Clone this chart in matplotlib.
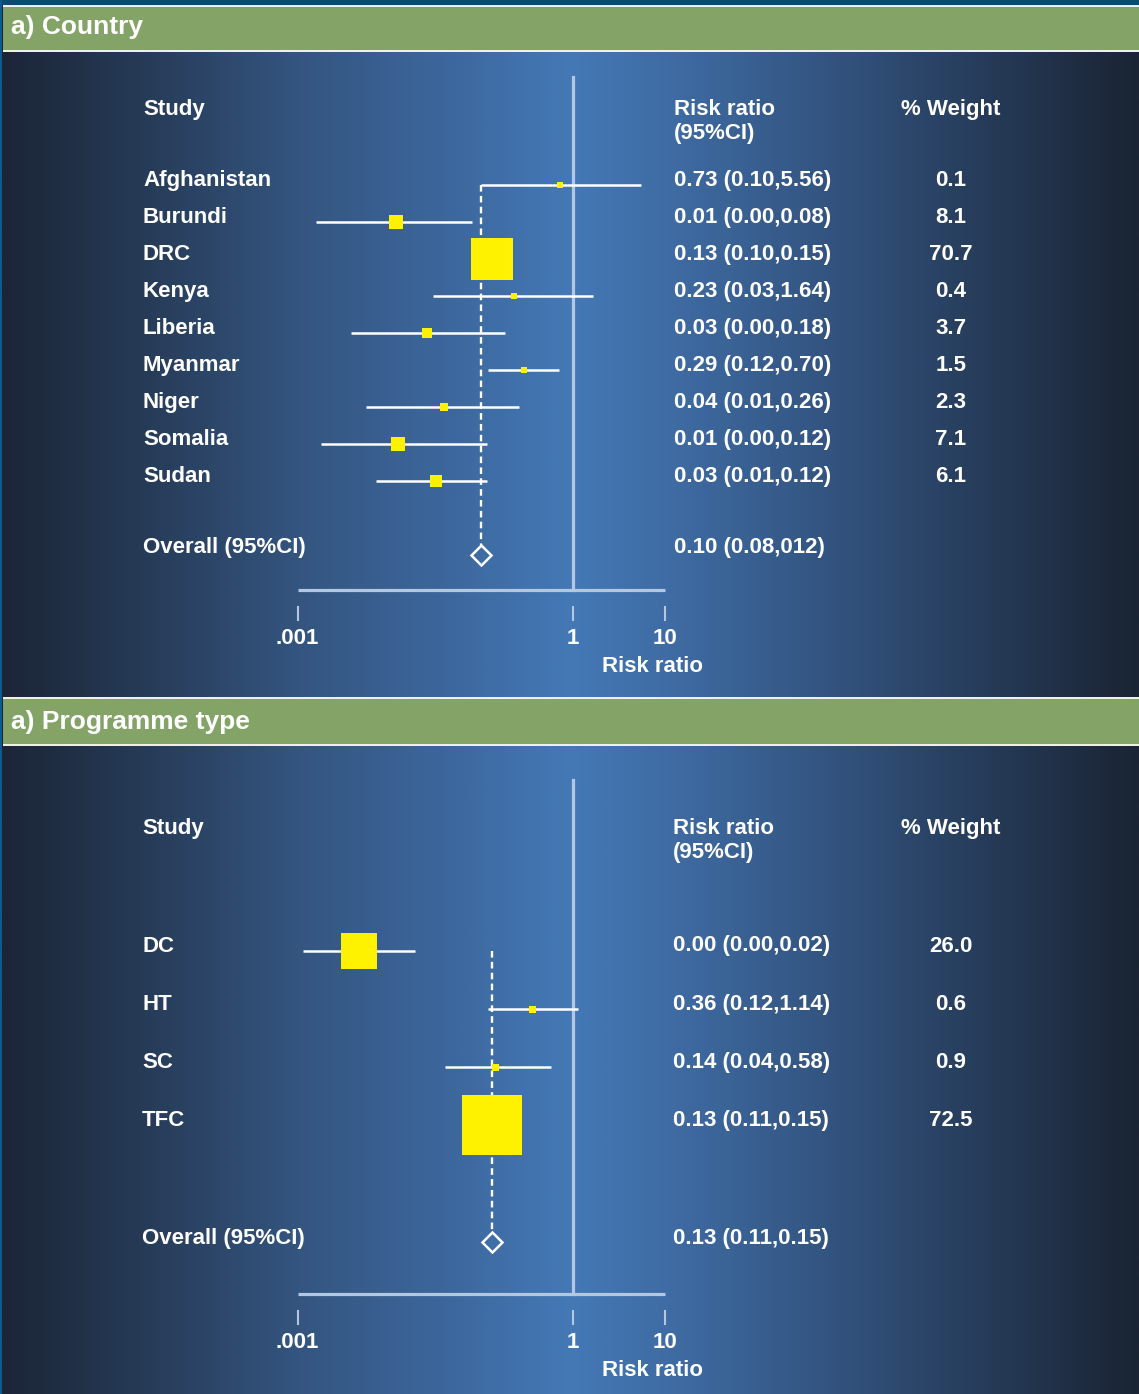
import numpy as np
import matplotlib
matplotlib.use("Agg")
import matplotlib.pyplot as plt
from matplotlib.colors import LinearSegmentedColormap
from matplotlib.patches import Rectangle

plt.rcParams['font.family'] = ['Liberation Sans', 'DejaVu Sans']

# a) by country
country_names = ["Afghanistan", "Burundi", "DRC", "Kenya", "Liberia",
                 "Myanmar", "Niger", "Somalia", "Sudan"]
country_rr = [0.73, 0.0117, 0.13, 0.23, 0.026, 0.29, 0.039, 0.0125, 0.032]
country_lo = [0.10, 0.0016, 0.10, 0.03, 0.0038, 0.12, 0.0056, 0.0018, 0.0072]
country_hi = [5.56, 0.08, 0.15, 1.64, 0.18, 0.70, 0.26, 0.115, 0.115]
country_wt = [0.1, 8.1, 70.7, 0.4, 3.7, 1.5, 2.3, 7.1, 6.1]
country_overall = 0.10
country_overall_label = "0.10 (0.08,012)"

# a) by programme type
prog_names = ["DC", "HT", "SC", "TFC"]
prog_rr = [0.0047, 0.36, 0.14, 0.13]
prog_lo = [0.00115, 0.12, 0.04, 0.11]
prog_hi = [0.019, 1.14, 0.58, 0.15]
prog_wt = [26.0, 0.6, 0.9, 72.5]
prog_overall = 0.13
prog_overall_label = "0.13 (0.11,0.15)"

tick_vals = [0.001, 1, 10]
tick_text = [".001", "1", "10"]

W, H = 1139, 1394
DPI = 100
PX_DEC = 91.8       # pixels per decade
X_ONE = 573         # pixel column of RR = 1

fig = plt.figure(figsize=(W / DPI, H / DPI), dpi=DPI)

# background: pixel coordinates
bg = fig.add_axes([0, 0, 1, 1])
bg.set_xlim(0, W)
bg.set_ylim(H, 0)
bg.axis('off')
stops = [(0.0, '#1b2536'), (0.12, '#263a56'), (0.26, '#34557f'),
         (0.40, '#3d689e'), (0.50, '#4479b6'), (0.60, '#3e6aa1'),
         (0.74, '#32527d'), (0.88, '#253955'), (1.0, '#1a2434')]
cmap = LinearSegmentedColormap.from_list('bgblue', stops)
bg.imshow(np.linspace(0, 1, 512)[None, :], cmap=cmap, aspect='auto',
          extent=[0, W, H, 0], zorder=0)

GREEN = '#84a467'


def band(y_top, y_bot, title, text_base):
    bg.add_patch(Rectangle((3, y_top - 2), W, 2, color='#eef2e6', lw=0, zorder=1))
    bg.add_patch(Rectangle((3, y_top), W, y_bot - y_top, color=GREEN, lw=0, zorder=1))
    bg.add_patch(Rectangle((3, y_bot), W, 2, color='#eef2e6', lw=0, zorder=1))
    bg.text(11, text_base, title, color='white', fontsize=19,
            fontweight='bold', va='baseline', ha='left', zorder=2)


bg.add_patch(Rectangle((0, 0), W, 5, color='#0c4a72', lw=0, zorder=1))
band(7, 50, "a) Country", 34)
band(699, 744, "a) Programme type", 729)
bg.add_patch(Rectangle((0, 0), 2, H, color='#0f5a8c', lw=0, zorder=3))

# forest plot axes: log x, y in pixels
ax = fig.add_axes([0, 0, 1, 1])
ax.patch.set_alpha(0)
ax.set_xscale('log')
ax.set_xlim(10 ** (-X_ONE / PX_DEC), 10 ** ((W - X_ONE) / PX_DEC))
ax.set_ylim(H, 0)
ax.axis('off')

FS = 16
LINE_C = '#b4c7e0'


def panel(names, rr, lo, hi, wt, overall, overall_label,
          head_y, y0, step, null_top, axis_y, sq_scale, sq_min,
          col_rr_x, col_study_x, overall_text_dy):
    n = len(names)
    ys = [y0 + step * i for i in range(n)]
    oy = y0 + step * (n + 1)

    # headers
    kw = dict(color='white', fontsize=FS, fontweight='bold', va='baseline')
    bg.text(col_study_x, head_y, "Study", ha='left', **kw)
    bg.text(col_rr_x, head_y, "Risk ratio", ha='left', **kw)
    bg.text(col_rr_x, head_y + 24, "(95%CI)", ha='left', **kw)
    bg.text(901, head_y, "% Weight", ha='left', **kw)

    # null line and axis
    ax.plot([1, 1], [null_top, axis_y], color=LINE_C, lw=2.3, zorder=2)
    ax.plot([tick_vals[0], tick_vals[-1]], [axis_y, axis_y], color=LINE_C,
            lw=2.3, zorder=2, solid_capstyle='butt')
    for v, t in zip(tick_vals, tick_text):
        ax.plot([v, v], [axis_y + 17, axis_y + 30], color=LINE_C, lw=1.5, zorder=2)
        ax.text(v, axis_y + 54.5, t, ha='center', **kw)
    bg.text(653, axis_y + 82.5, "Risk ratio", ha='center', **kw)

    # overall estimate dashed line + diamond
    ax.plot([overall, overall], [ys[0], oy - 10], color='white', lw=1.7,
            linestyle=(0, (2.8, 1.8)), zorder=2)
    ax.plot([overall], [oy], marker='D', ms=10.3, mfc='none', mec='white',
            mew=1.8, zorder=4)

    # study rows
    for i in range(n):
        ax.plot([lo[i], hi[i]], [ys[i], ys[i]], color='white', lw=1.8,
                zorder=3, solid_capstyle='butt')
        side = max(sq_min, sq_scale * np.sqrt(wt[i]))
        ax.scatter([rr[i]], [ys[i]], marker='s', s=(side * 72 / DPI) ** 2,
                   color='#fff200', linewidths=0, zorder=4)
        tb = ys[i] + 1
        bg.text(col_study_x, tb, names[i], ha='left', **kw)
        bg.text(col_rr_x, tb, "%.2f (%.2f,%.2f)" % (rr[i], lo[i], hi[i]),
                ha='left', **kw)
        bg.text(951, tb, "%.1f" % wt[i], ha='center', **kw)

    bg.text(col_study_x, oy + overall_text_dy, "Overall (95%CI)", ha='left', **kw)
    bg.text(col_rr_x, oy + overall_text_dy, overall_label, ha='left', **kw)


panel(country_names, country_rr, country_lo, country_hi, country_wt,
      country_overall, country_overall_label,
      head_y=115, y0=185, step=37, null_top=77, axis_y=590,
      sq_scale=4.9, sq_min=6, col_rr_x=674, col_study_x=143,
      overall_text_dy=-2)

panel(prog_names, prog_rr, prog_lo, prog_hi, prog_wt,
      prog_overall, prog_overall_label,
      head_y=834, y0=950.5, step=58.3, null_top=780, axis_y=1294,
      sq_scale=7.0, sq_min=7, col_rr_x=673, col_study_x=142,
      overall_text_dy=2)

fig.savefig("out.png", dpi=DPI)
